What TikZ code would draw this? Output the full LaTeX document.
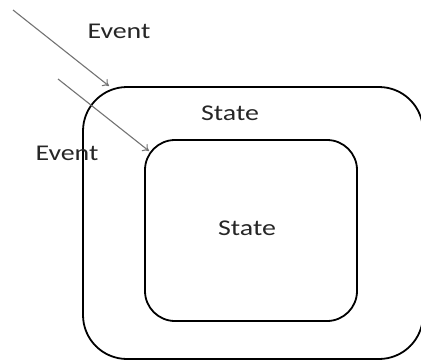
\documentclass[tikz,border=0pt]{standalone}
\usepackage{fontspec}
\setmainfont{Carlito}
\usepackage{tikz}
\usetikzlibrary{arrows.meta}

\begin{document}
\begin{tikzpicture}[x=1pt,y=-1pt,
    statebox/.style={draw,line width=1.8pt,rounded corners=#1,inner sep=0pt},
    lbl/.style={font=\fontsize{22.5}{27}\selectfont,text=black!85,xscale=1.24,transform shape},
    evt/.style={draw=black!55,line width=1.1pt,-{To[length=6pt,width=9pt]}}]
  \useasboundingbox (0,0) rectangle (421,362);
  % instantiate states
  \node[statebox=44pt,minimum width=340pt,minimum height=272pt] (outer) at (253,223) {};
  \node[statebox=30pt,minimum width=212pt,minimum height=181pt] (inner) at (251,230.5) {};
  % labels
  \node[lbl] (outerlbl) at (230,113) {State};
  \node[lbl] (innerlbl) at (247,228) {State};
  \node[lbl] (evtA) at (119,31) {Event};
  \node[lbl] (evtB) at (67,153) {Event};
  % incoming events
  \coordinate (a0) at (13,10);
  \coordinate (a1) at (109,86);
  \coordinate (b0) at (58,79);
  \coordinate (b1) at (149,151);
  \draw[evt] (a0) -- (a1);
  \draw[evt] (b0) -- (b1);
\end{tikzpicture}
\end{document}
